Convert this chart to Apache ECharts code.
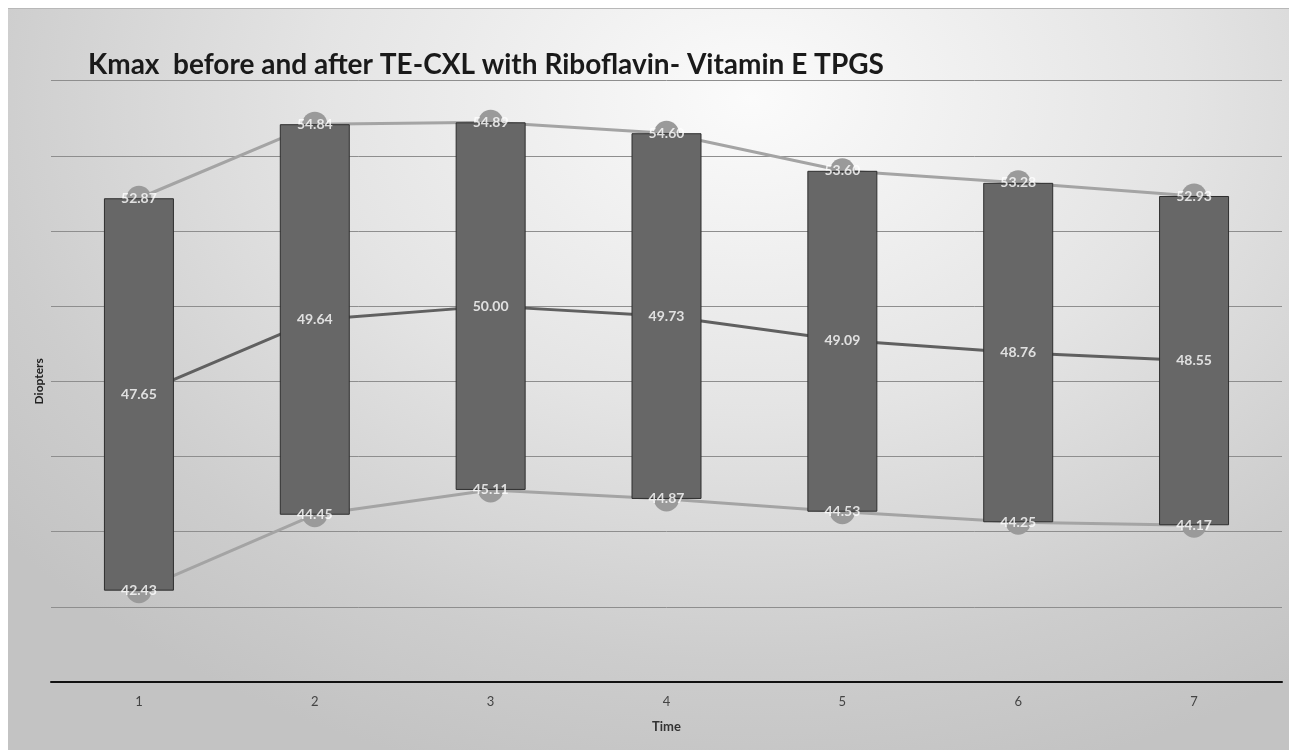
<!DOCTYPE html>
<html>
<head>
<meta charset="utf-8">
<script src="https://cdn.jsdelivr.net/npm/echarts@6/dist/echarts.min.js"></script>
<style>
  body { margin: 0; background: #fff; }
  #chart {
    position: absolute; left: 8px; top: 8px; width: 1281px; height: 742px;
    background: radial-gradient(ellipse 75% 95% at 58% 12%, #fbfbfb 0%, #e4e4e4 45%, #cdcdcd 80%, #c3c3c3 100%);
    border-top: 1px solid #b8b8b8;
    box-sizing: border-box;
  }
</style>
</head>
<body>
<div id="chart"></div>
<script>
// time points
const times = ['1', '2', '3', '4', '5', '6', '7'];
// Kmax (D)
const highVals = [52.87, 54.84, 54.89, 54.60, 53.60, 53.28, 52.93];
const meanVals = [47.65, 49.64, 50.00, 49.73, 49.09, 48.76, 48.55];
const lowVals = [42.43, 44.45, 45.11, 44.87, 44.53, 44.25, 44.17];

const myChart = echarts.init(document.getElementById('chart'));

const labelFont = {
    show: true,
    position: 'inside',
    color: '#ffffff',
    fontFamily: 'Lato',
    fontWeight: 'bold',
    fontSize: 14,
    formatter: p => p.value[1].toFixed(2)
};

// label-only series on top of the bars
function labelSeries(vals) {
    return {
        type: 'scatter',
        z: 5,
        symbolSize: 1,
        itemStyle: { color: 'transparent' },
        label: labelFont,
        silent: true,
        data: vals.map((v, i) => [times[i], v])
    };
}

let option = {
    animation: false,
    title: {
        text: 'Kmax  before and after TE-CXL with Riboflavin- Vitamin E TPGS',
        left: 75,
        top: 37,
        textStyle: { fontFamily: 'Lato', fontWeight: 'bold', fontSize: 28, color: '#1a1a1a' }
    },
    grid: { left: 43, right: 7, top: 71.6, bottom: 68 },
    xAxis: {
        type: 'category',
        data: times,
        name: 'Time',
        nameLocation: 'middle',
        nameGap: 38,
        nameTextStyle: { fontFamily: 'Lato', fontWeight: 'bold', fontSize: 13, color: '#333' },
        axisLine: { lineStyle: { color: '#111', width: 2 } },
        axisTick: { show: false },
        axisLabel: { fontFamily: 'Lato', fontSize: 13, color: '#444', margin: 13 }
    },
    yAxis: {
        type: 'value',
        min: 40,
        max: 56,
        interval: 2,
        name: 'Diopters',
        nameLocation: 'middle',
        nameGap: 6,
        nameRotate: 90,
        nameTextStyle: { fontFamily: 'Lato', fontWeight: 'bold', fontSize: 12, color: '#222' },
        axisLabel: { show: false },
        axisLine: { show: false },
        axisTick: { show: false },
        splitLine: { lineStyle: { color: '#8e8e8e', width: 1 } }
    },
    series: [
        {
            type: 'line',
            z: 1,
            data: highVals,
            symbol: 'circle',
            symbolSize: 25,
            itemStyle: { color: '#9a9a9a' },
            lineStyle: { color: '#a4a4a4', width: 3 }
        },
        {
            type: 'line',
            z: 1,
            data: meanVals,
            symbol: 'none',
            lineStyle: { color: '#606060', width: 3 }
        },
        {
            type: 'line',
            z: 1,
            data: lowVals,
            symbol: 'circle',
            symbolSize: 25,
            itemStyle: { color: '#9a9a9a' },
            lineStyle: { color: '#a4a4a4', width: 3 }
        },
        {
            type: 'bar',
            stack: 'range',
            z: 3,
            barWidth: 70,
            itemStyle: { color: 'transparent' },
            data: lowVals
        },
        {
            type: 'bar',
            stack: 'range',
            z: 3,
            barWidth: 70,
            itemStyle: { color: '#676767', borderColor: '#2e2e2e', borderWidth: 1 },
            data: highVals.map((h, i) => +(h - lowVals[i]).toFixed(2))
        },
        labelSeries(highVals),
        labelSeries(meanVals),
        labelSeries(lowVals)
    ]
};

option && myChart.setOption(option);
</script>
</body>
</html>
